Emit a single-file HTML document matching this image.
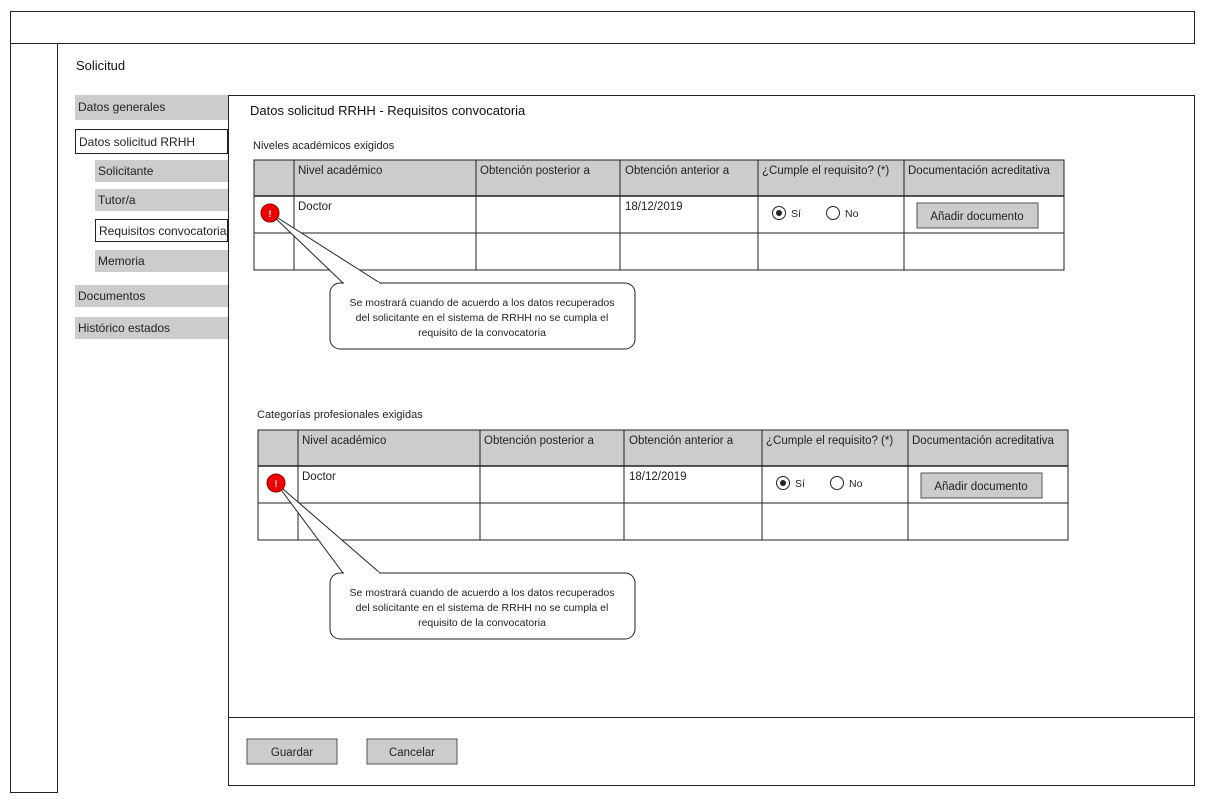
<!DOCTYPE html>
<html><head><meta charset="utf-8"><style>
body{margin:0;width:1205px;height:800px;background:#fff;position:relative;overflow:hidden;font-family:"Liberation Sans",sans-serif;font-size:12px;color:#222}
.a{position:absolute;box-sizing:border-box}
.g{background:#ccc}
.w{background:#fff;border:1px solid #222}
.t{padding-left:3px;line-height:24px}
</style></head><body>
<div class="a" style="left:10px;top:11px;width:1185px;height:33px;border:1px solid #222"></div>
<div class="a" style="left:10px;top:43px;width:48px;height:750px;border:1px solid #222;border-top:none"></div>
<div class="a" style="left:76px;top:58px;font-size:13px;color:#111">Solicitud</div>
<div class="a g t" style="left:75px;top:95px;width:153px;height:25px">Datos generales</div>
<div class="a w t" style="left:75px;top:129px;width:153px;height:25px">Datos solicitud RRHH</div>
<div class="a g t" style="left:95px;top:160px;width:133px;height:22px;line-height:22px">Solicitante</div>
<div class="a g t" style="left:95px;top:189px;width:133px;height:22px;line-height:22px">Tutor/a</div>
<div class="a w t" style="left:95px;top:219px;width:133px;height:23px;line-height:22px">Requisitos convocatoria</div>
<div class="a g t" style="left:95px;top:250px;width:133px;height:22px;line-height:22px">Memoria</div>
<div class="a g t" style="left:75px;top:285px;width:153px;height:22px;line-height:22px">Documentos</div>
<div class="a g t" style="left:75px;top:317px;width:153px;height:22px;line-height:22px">Histórico estados</div>
<div class="a" style="left:228px;top:95px;width:967px;height:691px;border:1px solid #222"></div>
<div class="a" style="left:228px;top:717px;width:967px;height:1px;background:#222"></div>
<div class="a" style="left:250px;top:103px;font-size:13px;color:#111">Datos solicitud RRHH - Requisitos convocatoria</div>
<div class="a" style="left:253px;top:140px;font-size:11px">Niveles académicos exigidos</div>
<div class="a" style="left:257px;top:409px;font-size:11px">Categorías profesionales exigidas</div>
<svg class="a" style="left:0;top:0" width="1205" height="800" font-family="Liberation Sans, sans-serif" font-size="11.5" fill="#222">
<g id="t1">
<rect x="254" y="160" width="810" height="36" fill="#ccc"/>
<rect x="254" y="160" width="810" height="110" fill="none" stroke="#222"/>
<g stroke="#222"><line x1="254" y1="196" x2="1064" y2="196" stroke-width="1.5"/><line x1="254" y1="233" x2="1064" y2="233"/>
<line x1="294" y1="160" x2="294" y2="270"/><line x1="476" y1="160" x2="476" y2="270"/><line x1="620" y1="160" x2="620" y2="270"/><line x1="758" y1="160" x2="758" y2="270"/><line x1="904" y1="160" x2="904" y2="270"/></g>
<text x="298" y="174">Nivel académico</text><text x="480" y="174">Obtención posterior a</text><text x="625" y="174">Obtención anterior a</text><text x="762" y="174">¿Cumple el requisito? (*)</text><text x="908" y="174">Documentación acreditativa</text>
<text x="298" y="210">Doctor</text><text x="625" y="210">18/12/2019</text>
<circle cx="779" cy="213" r="6.5" fill="#fff" stroke="#222"/><circle cx="779" cy="213" r="3" fill="#222"/><text x="791" y="217" font-size="10.5">Sí</text>
<circle cx="833" cy="213" r="6.5" fill="#fff" stroke="#222"/><text x="845" y="217" font-size="10.5">No</text>
<rect x="917" y="203" width="121" height="25" fill="#ccc" stroke="#555"/><text x="977" y="220" text-anchor="middle">Añadir documento</text>
</g>
<use href="#t1" x="4" y="270"/>
<path d="M343 283 L270 213 L380 283" fill="#fff" stroke="#222"/>
<rect x="330" y="283" width="305" height="66" rx="10" fill="#fff" stroke="#222"/>
<line x1="344" y1="283" x2="379" y2="283" stroke="#fff" stroke-width="2"/>
<circle cx="270" cy="213" r="9" fill="#e00" stroke="#900"/><text x="270" y="217" text-anchor="middle" fill="#fff" font-size="9" font-weight="bold">!</text>
<g text-anchor="middle" font-size="10.5"><text x="482" y="306">Se mostrará cuando de acuerdo a los datos recuperados</text><text x="482" y="321">del solicitante en el sistema de RRHH no se cumpla el</text><text x="482" y="336">requisito de la convocatoria</text></g>
<path d="M343 573 L276 483 L380 573" fill="#fff" stroke="#222"/>
<rect x="330" y="573" width="305" height="66" rx="10" fill="#fff" stroke="#222"/>
<line x1="344" y1="573" x2="379" y2="573" stroke="#fff" stroke-width="2"/>
<circle cx="276" cy="483" r="9" fill="#e00" stroke="#900"/><text x="276" y="487" text-anchor="middle" fill="#fff" font-size="9" font-weight="bold">!</text>
<g text-anchor="middle" font-size="10.5"><text x="482" y="596">Se mostrará cuando de acuerdo a los datos recuperados</text><text x="482" y="611">del solicitante en el sistema de RRHH no se cumpla el</text><text x="482" y="626">requisito de la convocatoria</text></g>
<rect x="247" y="739" width="90" height="25" fill="#ccc" stroke="#555"/><text x="292" y="756" text-anchor="middle">Guardar</text>
<rect x="367" y="739" width="90" height="25" fill="#ccc" stroke="#555"/><text x="412" y="756" text-anchor="middle">Cancelar</text>
</svg>
</body></html>
